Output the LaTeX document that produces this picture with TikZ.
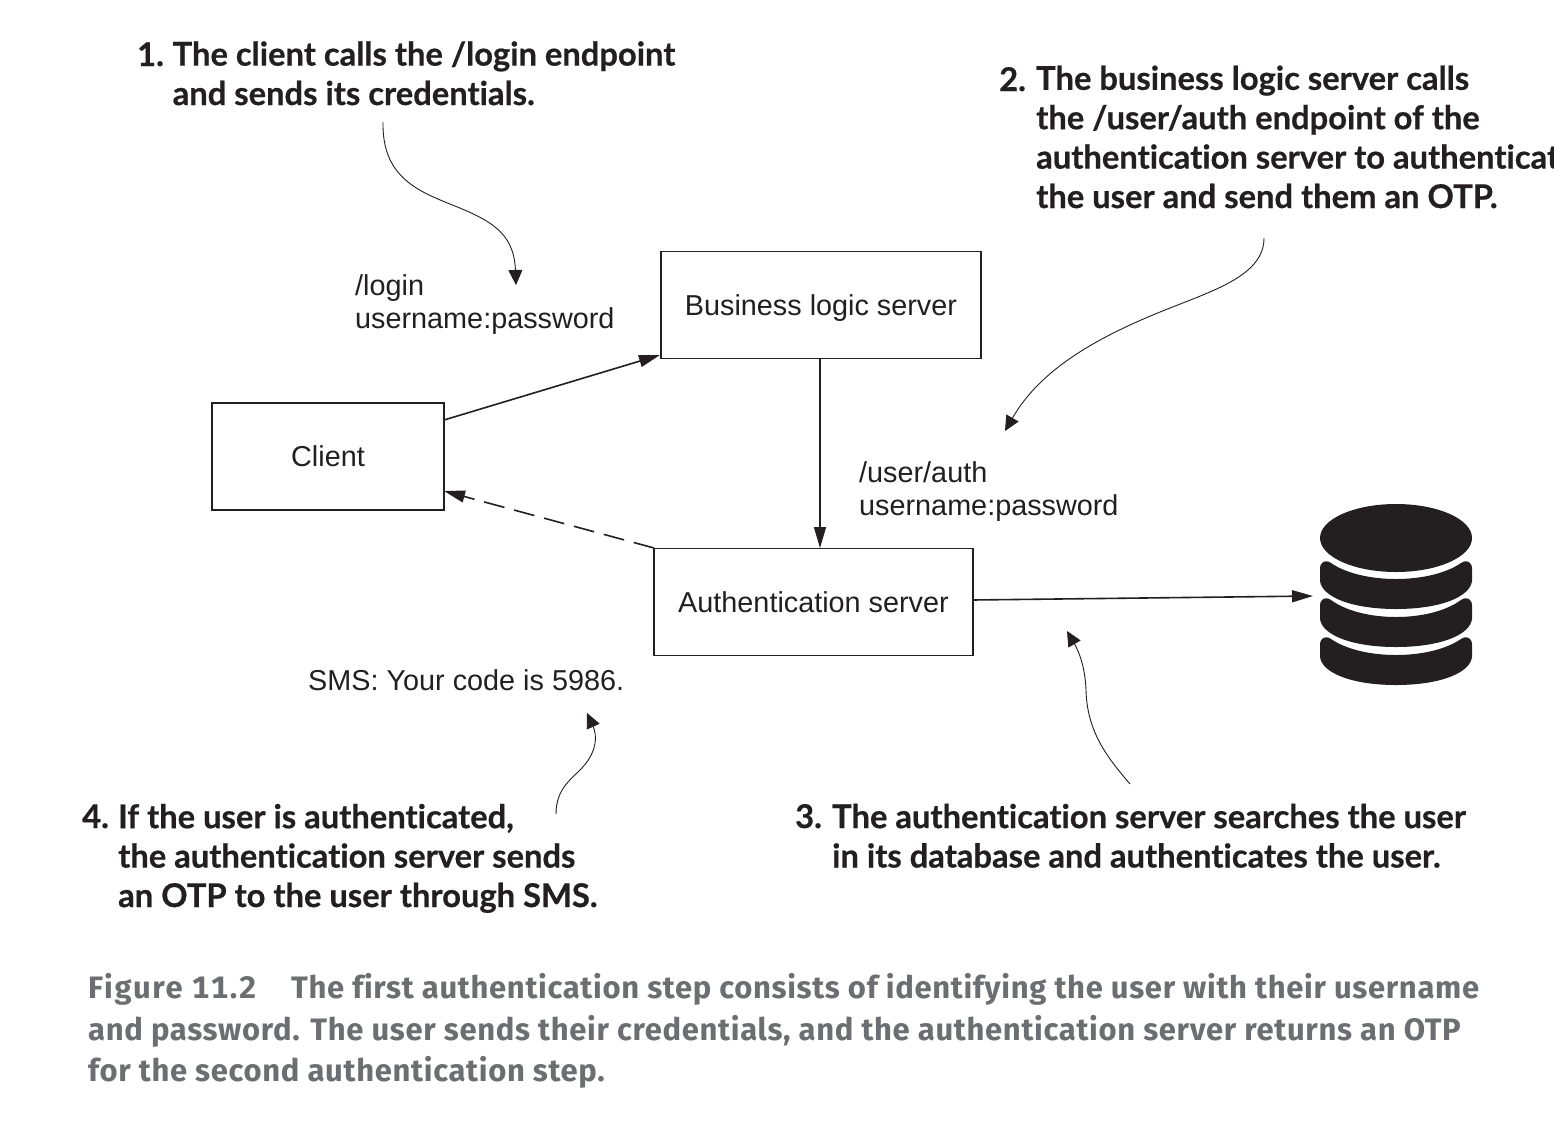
\documentclass[tikz,border=0pt]{standalone}
\usepackage{fontspec}
\usetikzlibrary{arrows.meta}
\setmainfont{Liberation Sans}
\newfontfamily\calloutfont{Lato}[BoldFont={Lato Bold},BoldFeatures={FakeBold=0.6},Ligatures={NoCommon}]
\newfontfamily\captionfontx{Fira Sans}[LetterSpace=2.2,Numbers=Monospaced,Ligatures={NoCommon}]
\definecolor{ink}{HTML}{231F20}
\definecolor{capgray}{HTML}{6D6E71}
\tikzset{
  x=1pt,y=-1pt,
  box/.style={draw=ink,line width=1.4pt,minimum width=#1,minimum height=107pt,inner sep=0pt,text depth=0pt,font=\fontsize{28.8}{33}\selectfont,text=ink},
  lbl/.style={anchor=base west,inner sep=0pt,align=left,font=\fontsize{28.8}{33}\selectfont,text=ink},
  call/.style={anchor=base west,inner sep=0pt,align=left,font=\calloutfont\bfseries\fontsize{32.7}{39.4}\selectfont,text=ink},
  capt/.style={anchor=base west,inner sep=0pt,align=left,font=\captionfontx\bfseries\fontsize{31}{41.5}\selectfont,text=capgray},
  flow/.style={draw=ink,line width=1.6pt,-{Triangle[length=21pt,width=12pt]}},
  curl/.style={draw=ink,line width=0.9pt,-{Triangle[length=15pt,width=14pt]}},
}
\begin{document}
\begin{tikzpicture}
\useasboundingbox (0,0) rectangle (1554,1120);
\fill[white] (0,0) rectangle (1554,1120);
% boxes
\node[box=320pt] (biz) at (821,305) {Business logic server};
\node[box=232pt] (client) at (328,456.5) {Client};
\node[box=319pt] (auth) at (813.5,602) {Authentication server};
% connector ends
\coordinate (clientout) at (444,420);
\coordinate (bizin) at (660,355);
\coordinate (bizout) at (820,359);
\coordinate (authin) at (820,548);
\coordinate (authout) at (972,600);
\coordinate (dbin) at (1313,596);
\coordinate (authsw) at (654,548);
\coordinate (clientin) at (444,491);
\draw[flow] (clientout) -- (bizin);
\draw[flow] (bizout) -- (authin);
\draw[flow] (authout) -- (dbin);
\draw[flow,dash pattern=on 21pt off 10pt] (authsw) -- (clientin);
% labels
\node[lbl] (l1) at (355,328) {/login\\username:password};
\node[lbl] (l2) at (859,515) {/user/auth\\username:password};
\node[lbl] (l3) at (308,690) {SMS: Your code is 5986.};
% callouts
\node[call] (n1) at (137,66) {1.};
\node[call] (c1) at (172.5,105) {The client calls the /login endpoint\\and sends its credentials.};
\node[call] (n2) at (999,91) {2.};
\node[call] (c2) at (1036,208) {The business logic server calls\\the /user/auth endpoint of the\\authentication server to authenticate\\the user and send them an OTP.};
\node[call] (n3) at (795,828) {3.};
\node[call] (c3) at (832,867.5) {The authentication server searches the user\\in its database and authenticates the user.};
\node[call] (n4) at (82,828) {4.};
\node[call] (c4) at (118,907) {If the user is authenticated,\\the authentication server sends\\an OTP to the user through SMS.};
% caption
\node[capt] (cap0) at (88,998) {\addfontfeature{LetterSpace=5.5}Figure 11.2};
\node[capt] (cap1) at (291,998) {The first authentication step consists of identifying the user with their username};
\node[capt] (cap2) at (88,1040) {and password. The user sends their credentials, and the authentication server returns an OTP};
\node[capt] (cap3) at (88,1081) {for the second authentication step.};
% curls
\coordinate (a1s) at (383,122);
\coordinate (a1e) at (516,285);
\coordinate (a2s) at (1264,238);
\coordinate (a2e) at (1005,431);
\coordinate (a3s) at (1130,784);
\coordinate (a3e) at (1067,631);
\coordinate (a4s) at (556,814);
\coordinate (a4e) at (587,713);
\draw[curl] (a1s) .. controls (382,175) and (415,190) .. (450,204) .. controls (490,220) and (514,232) .. (a1e);
\draw[curl] (a2s) .. controls (1264,275) and (1215,290) .. (1165,310) .. controls (1095,338) and (1040,370) .. (a2e);
\draw[curl] (a3s) .. controls (1105,755) and (1087,730) .. (1086,690) .. controls (1085,665) and (1078,650) .. (a3e);
\draw[curl] (a4s) .. controls (556,790) and (570,780) .. (580,770) .. controls (598,752) and (597,735) .. (a4e);
% database
\fill[ink] (1396,538) ellipse [x radius=76, y radius=34];
\foreach \t/\m/\b in {561/579/609, 598/617/647, 637/655/685}{
  \fill[ink] (1320,\t+8) .. controls (1320,\t+1) and (1325,\t-2) .. (1331,\t+2)
    .. controls (1362,{\t+2+(\m-\t-2)/0.75}) and (1430,{\t+2+(\m-\t-2)/0.75}) .. (1461,\t+2)
    .. controls (1467,\t-2) and (1472,\t+1) .. (1472,\t+8) -- (1472,\b-28)
    .. controls (1470,\b-12) and (1440,\b) .. (1396,\b)
    .. controls (1352,\b) and (1322,\b-12) .. (1320,\b-28) -- cycle;
}
\end{tikzpicture}
\end{document}
